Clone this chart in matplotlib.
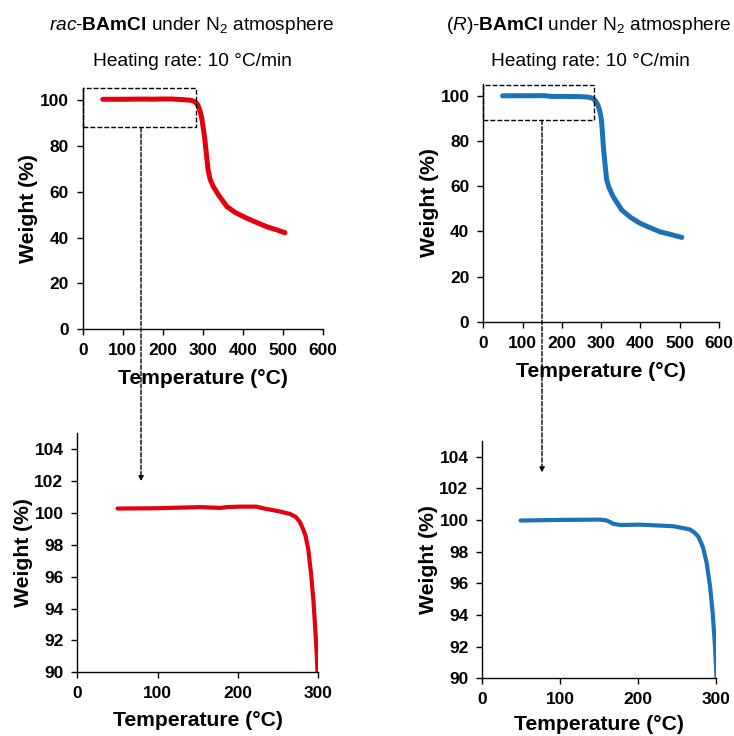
import matplotlib
matplotlib.use("Agg")
import matplotlib.pyplot as plt
from matplotlib.patches import Rectangle, ConnectionPatch

plt.rcParams['font.family'] = ['Liberation Sans', 'DejaVu Sans']
plt.rcParams['mathtext.fontset'] = 'custom'
plt.rcParams['mathtext.rm'] = 'Liberation Sans'
plt.rcParams['mathtext.it'] = 'Liberation Sans:italic'
plt.rcParams['mathtext.bf'] = 'Liberation Sans:bold'

# TGA traces, temperature in degC, weight in %
temp_rac = [50, 99, 153, 178, 186, 202, 223, 232, 250, 265, 272, 277, 281, 284, 287.6,
            291, 294, 296.3, 298, 299, 302, 305, 309, 313, 318, 326, 340, 360, 380, 410,
            435, 460, 485, 505]
wt_rac = [100.28, 100.3, 100.37, 100.32, 100.37, 100.4, 100.4, 100.29, 100.12, 99.94,
          99.75, 99.45, 99.0, 98.6, 97.7, 96.2, 94.5, 92.7, 91.2, 90.0, 86.5, 82.6, 76.0,
          69.5, 65.5, 62.2, 58.3, 53.5, 51.0, 48.4, 46.5, 44.7, 43.3, 42.1]

temp_r = [49, 100, 151, 160, 168, 177, 202, 220, 245, 266, 272, 277, 281, 283.3, 287.7,
          292, 295.4, 298.3, 300.5, 303, 306, 310, 314.5, 320, 331, 353, 375, 400, 425,
          450, 478, 506]
wt_r = [99.96, 100.0, 100.02, 99.96, 99.75, 99.68, 99.7, 99.66, 99.6, 99.4, 99.2, 98.94,
        98.5, 98.2, 97.26, 95.8, 94.1, 92.0, 89.9, 85.0, 77.4, 70.0, 62.7, 59.5, 55.3,
        49.4, 46.2, 43.5, 41.6, 39.8, 38.6, 37.3]

titles = [r"$\mathit{rac}$-$\mathbf{BAmCl}$ under N$_2$ atmosphere",
          r"($\mathit{R}$)-$\mathbf{BAmCl}$ under N$_2$ atmosphere"]
rate_text = "Heating rate: 10 \u00b0C/min"

full_ticks = [0, 100, 200, 300, 400, 500, 600]
full_yticks = [0, 20, 40, 60, 80, 100]
zoom_ticks = [0, 100, 200, 300]
zoom_yticks = [90, 92, 94, 96, 98, 100, 102, 104]

# zoom window on the plateau and where the arrow lands
box_rac = (0, 88, 284, 17.4)
box_r = (0, 89.1, 283, 15.6)
link_rac = ((145.5, 87.9), (79.3, 102.0))
link_r = ((149.6, 89.1), (76.5, 103.0))

red = '#e3000f'
blue = '#1b72b8'

fig = plt.figure(figsize=(7.34, 7.36), dpi=100)

ax1 = fig.add_axes([0.1127, 0.5526, 0.3274, 0.3272])
ax2 = fig.add_axes([0.6585, 0.5629, 0.3207, 0.3224])
ax3 = fig.add_axes([0.1053, 0.0865, 0.3283, 0.3247])
ax4 = fig.add_axes([0.6571, 0.0784, 0.3188, 0.3228])


def style(ax, xt, yt, xlim, ylim, xpad):
    for s in ['top', 'right']:
        ax.spines[s].set_visible(False)
    for s in ['left', 'bottom']:
        ax.spines[s].set_linewidth(1.0)
    ax.set_xlim(*xlim)
    ax.set_ylim(*ylim)
    ax.set_xticks(xt)
    ax.set_yticks(yt)
    ax.tick_params(direction='out', length=4, width=1.0, pad=6, labelsize=12.5)
    for lab in ax.get_xticklabels() + ax.get_yticklabels():
        lab.set_fontweight('bold')
    ax.set_xlabel('Temperature (\u00b0C)', fontsize=15.2, fontweight='bold', labelpad=xpad)
    ax.set_ylabel('Weight (%)', fontsize=15.2, fontweight='bold', labelpad=1)


line_kw = dict(solid_capstyle='round', solid_joinstyle='round')
ax1.plot(temp_rac, wt_rac, color=red, lw=3.6, **line_kw)
ax2.plot(temp_r, wt_r, color=blue, lw=3.6, **line_kw)
ax3.plot(temp_rac, wt_rac, color=red, lw=3.0, **line_kw)
ax4.plot(temp_r, wt_r, color=blue, lw=3.0, **line_kw)

style(ax1, full_ticks, full_yticks, (0, 600), (0, 105), 8)
style(ax2, full_ticks, full_yticks, (0, 600), (0, 105), 8)
style(ax3, zoom_ticks, zoom_yticks, (0, 300), (90, 105), 7)
style(ax4, zoom_ticks, zoom_yticks, (0, 300), (90, 105), 5.5)

for ax_top, ax_bot, box, link in [(ax1, ax3, box_rac, link_rac), (ax2, ax4, box_r, link_r)]:
    x, y, w, h = box
    ax_top.add_patch(Rectangle((x, y), w, h, fill=False, ec='black', lw=1.0,
                               ls=(0, (3.5, 1.5)), clip_on=False, zorder=5))
    con = ConnectionPatch(xyA=link[0], coordsA=ax_top.transData,
                          xyB=link[1], coordsB=ax_bot.transData,
                          arrowstyle='-|>', mutation_scale=7, lw=1.0,
                          ls=(0, (3, 1.5)), color='black', zorder=6)
    fig.add_artist(con)

fig.text(192 / 734, 1 - 25 / 736, titles[0], ha='center', va='center', fontsize=13.8)
fig.text(589 / 734, 1 - 25 / 736, titles[1], ha='center', va='center', fontsize=13.8)
fig.text(192 / 734, 1 - 61 / 736, rate_text, ha='center', va='center', fontsize=13.8)
fig.text(590 / 734, 1 - 61 / 736, rate_text, ha='center', va='center', fontsize=13.8)

fig.savefig('out.png', dpi=100)
